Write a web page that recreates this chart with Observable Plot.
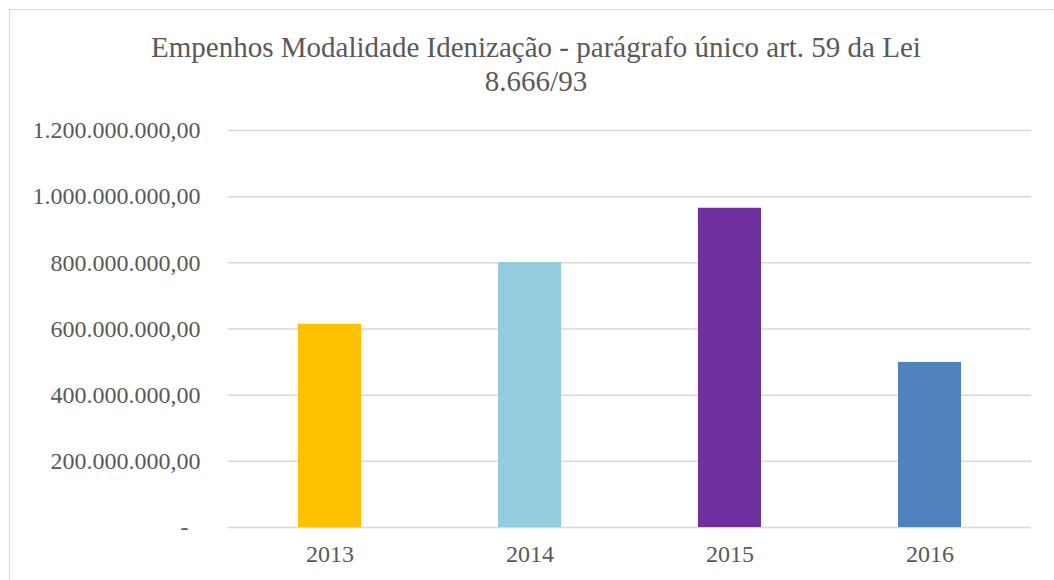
<!DOCTYPE html>
<html>
<head>
<meta charset="utf-8">
<script src="https://cdn.jsdelivr.net/npm/d3@7"></script>
<script src="https://cdn.jsdelivr.net/npm/@observablehq/plot@0.6"></script>
<style>
  html, body { margin: 0; padding: 0; background: #fff; }
  #page { position: relative; width: 1054px; height: 580px; overflow: hidden; font-family: "Liberation Serif", "Times New Roman", serif; }
  #frame { position: absolute; left: 9px; top: 9px; right: -2px; bottom: -2px; border-left: 1.5px solid #d9d9d9; border-top: 1.5px solid #d9d9d9; }
  #title { position: absolute; left: 18px; width: 1036px; top: 0; padding-top: 30px; height: 80px; text-align: center; font-size: 29px; line-height: 34px; color: #595959; }
  #plot { position: absolute; left: 0; top: 110px; }
</style>
</head>
<body>
<div id="page">
  <div id="frame"></div>
  <div id="title">Empenhos Modalidade Idenização - parágrafo único art. 59 da Lei<br>8.666/93</div>
  <div id="plot"></div>
</div>
<script>
const years = ["2013", "2014", "2015", "2016"];
const values = [614000000, 801000000, 965000000, 499000000];
const colors = ["#FFC000", "#93CDDD", "#7030A0", "#4F81BD"];
const yTicks = [0, 200000000, 400000000, 600000000, 800000000, 1000000000, 1200000000];

const data = years.map((y, i) => ({year: y, value: values[i], color: colors[i]}));
const br = d3.formatLocale({decimal: ",", thousands: ".", grouping: [3], currency: ["R$", ""]});
const fmt = br.format(",.2f");

const chart = Plot.plot({
  width: 1054,
  height: 470,
  marginLeft: 228,
  marginRight: 23,
  marginTop: 20,
  marginBottom: 53,
  style: {fontFamily: "'Liberation Serif', 'Times New Roman', serif", fontSize: "24px", color: "#595959", background: "transparent"},
  x: {domain: years, paddingInner: 0.686, paddingOuter: 0.343, label: null},
  y: {domain: [0, 1200000000], label: null},
  marks: [
    Plot.gridY(yTicks, {stroke: "#d9d9d9", strokeOpacity: 1, strokeWidth: 1.5}),
    Plot.barY(data, {x: "year", y: "value", fill: "color"}),
    Plot.axisY(yTicks, {tickSize: 0, tickPadding: 28, tickFormat: d => d === 0 ? "-\u00a0\u00a0" : fmt(d), fill: "#595959", label: null}),
    Plot.axisX({tickSize: 0, tickPadding: 17, fill: "#595959", label: null})
  ]
});
document.getElementById("plot").appendChild(chart);
</script>
</body>
</html>
